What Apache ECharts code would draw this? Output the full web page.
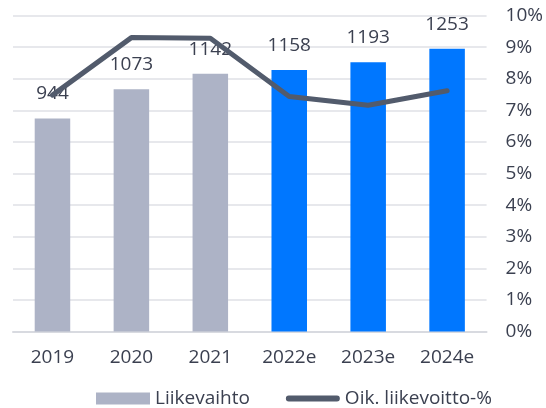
<!DOCTYPE html>
<html><head><meta charset="utf-8">
<script src="https://cdn.jsdelivr.net/npm/echarts@6/dist/echarts.min.js"></script>
<style>html,body{margin:0;padding:0;background:#fff}#c{width:546px;height:408px}</style>
</head><body><div id="c"></div>
<script>
const categories = ['2019','2020','2021','2022e','2023e','2024e'];
const revenue = [944, 1073, 1142, 1158, 1193, 1253];
const margin = [7.48, 9.3, 9.28, 7.44, 7.16, 7.62];
const pctTicks = [0,1,2,3,4,5,6,7,8,9,10];
const seriesNames = ['Liikevaihto', 'Oik. liikevoitto-%'];
const actualCount = 3;

const FONT = 'Open Sans';
const TXT = '#3b4050';
const GREY = '#adb3c6', BLUE = '#0077ff', LINE = '#525b6c';
const chart = echarts.init(document.getElementById('c'));
chart.setOption({
  animation: false,
  textStyle: {fontFamily: FONT},
  grid: {left: 13, right: 55, top: 15.5, bottom: 76.5, containLabel: false},
  legend: {
    left: 96, top: 389, padding: 0, itemWidth: 54, itemHeight: 12, itemGap: 36,
    textStyle: {fontSize: 19, color: TXT, fontFamily: FONT},
    data: [
      {name: seriesNames[0], icon: 'rect', itemStyle: {color: GREY}},
      {name: seriesNames[1], icon: 'path://M3,0 L53,0 A3,3 0 0 1 53,6 L3,6 A3,3 0 0 1 3,0 Z', itemStyle: {color: LINE}}
    ]
  },
  xAxis: {
    type: 'category', data: categories,
    axisTick: {show: false},
    axisLine: {lineStyle: {color: '#d8dae0', width: 2}},
    axisLabel: {fontSize: 19, color: TXT, margin: 17, fontFamily: FONT}
  },
  yAxis: [
    {type: 'value', min: 0, max: 1400, interval: 140, show: false},
    {type: 'value', position: 'right', min: pctTicks[0], max: pctTicks[pctTicks.length-1], interval: 1,
     axisLine: {show: false}, axisTick: {show: false},
     axisLabel: {formatter: '{value}%', fontSize: 19, color: TXT, margin: 19, fontFamily: FONT},
     splitLine: {lineStyle: {color: '#dfe0e6', width: 1.5}}}
  ],
  series: [
    {name: seriesNames[0], type: 'bar', data: revenue, barWidth: '45%', yAxisIndex: 0,
     itemStyle: {color: p => p.dataIndex < actualCount ? GREY : BLUE},
     label: {show: true, position: 'top', distance: 15, fontSize: 19, color: TXT, fontFamily: FONT}},
    {name: seriesNames[1], type: 'line', data: margin, yAxisIndex: 1, symbol: 'none',
     itemStyle: {color: LINE},
     lineStyle: {color: LINE, width: 5, cap: 'round', join: 'round'}, z: 3}
  ]
});
</script></body></html>
